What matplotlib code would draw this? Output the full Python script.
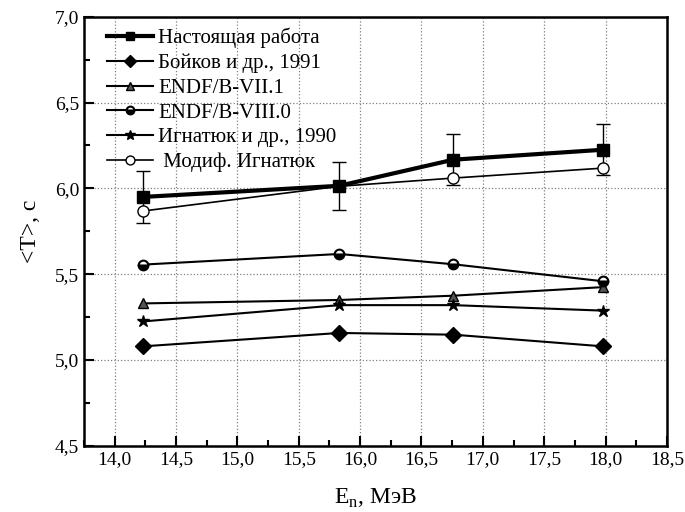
import numpy as np
import matplotlib.pyplot as plt
from matplotlib.ticker import MultipleLocator, FuncFormatter

plt.rcParams['font.family'] = ['Liberation Serif', 'DejaVu Serif']
plt.rcParams['mathtext.fontset'] = 'custom'
plt.rcParams['mathtext.rm'] = 'Liberation Serif'

# data
E = [14.23, 15.83, 16.76, 17.98]
t_present = [5.95, 6.015, 6.167, 6.225]
t_present_err = [0.15, 0.14, 0.15, 0.15]
t_boykov = [5.08, 5.158, 5.148, 5.08]
t_endf71 = [5.33, 5.35, 5.375, 5.425]
t_endf80 = [5.556, 5.618, 5.558, 5.459]
t_ignatyuk = [5.225, 5.32, 5.32, 5.288]
t_mod_ign = [5.868, 6.012, 6.06, 6.118]

labels = ["Настоящая работа", "Бойков и др., 1991", "ENDF/B-VII.1",
          "ENDF/B-VIII.0", "Игнатюк и др., 1990", " Модиф. Игнатюк"]


def comma(v, pos):
    return "{:.1f}".format(v).replace(".", ",")


def main():
    fig = plt.figure(figsize=(6.85, 5.12), dpi=100, facecolor="white")
    ax = fig.add_axes([0.1226, 0.129, 0.851, 0.8385])

    ax.errorbar(E, t_present, yerr=t_present_err, fmt='none', ecolor='black',
                elinewidth=1, capsize=5, capthick=1, zorder=2)
    ax.plot(E, t_present, 'k-', marker='s', ms=8, lw=3, label=labels[0], zorder=4)
    ax.plot(E, t_boykov, 'k-', marker='D', ms=8, lw=1.5, label=labels[1], zorder=3)
    ax.plot(E, t_endf71, 'k-', marker='^', ms=7, mfc='#555555', lw=1.5,
            label=labels[2], zorder=3)
    ax.plot(E, t_endf80, 'k-', marker='o', ms=7, mew=1.5, fillstyle='bottom',
            mfc='black', mfcalt='white', lw=1.5, label=labels[3], zorder=3)
    ax.plot(E, t_ignatyuk, 'k-', marker='*', ms=9, lw=1.5, label=labels[4], zorder=3)
    ax.plot(E, t_mod_ign, 'k-', marker='o', ms=8, mfc='white', lw=1.2,
            label=labels[5], zorder=3)

    ax.set_xlim(13.75, 18.5)
    ax.set_ylim(4.5, 7.0)
    ax.xaxis.set_major_locator(MultipleLocator(0.5))
    ax.xaxis.set_minor_locator(MultipleLocator(0.25))
    ax.yaxis.set_major_locator(MultipleLocator(0.5))
    ax.yaxis.set_minor_locator(MultipleLocator(0.25))
    ax.xaxis.set_major_formatter(FuncFormatter(comma))
    ax.yaxis.set_major_formatter(FuncFormatter(comma))
    ax.tick_params(which='both', direction='in', top=False, right=False,
                   labelsize=14, width=1.5)
    ax.tick_params(which='major', length=7)
    ax.tick_params(which='minor', length=4)
    for s in ax.spines.values():
        s.set_linewidth(1.8)

    ax.grid(True, which='major', color='gray', linestyle=':', linewidth=0.9)
    ax.set_axisbelow(True)

    ax.set_xlabel(r"E$_\mathregular{n}$, МэВ", fontsize=17, labelpad=14)
    ax.set_ylabel("<T>, c", fontsize=17, labelpad=10)

    ax.legend(loc='upper left', frameon=False, fontsize=15, handlelength=2.2,
              handletextpad=0.25, labelspacing=0.25, borderaxespad=0.3,
              markerscale=0.8, bbox_to_anchor=(0.015, 1.008))

    fig.savefig("out.png", format="png", dpi=100)


if __name__ == "__main__":
    main()
